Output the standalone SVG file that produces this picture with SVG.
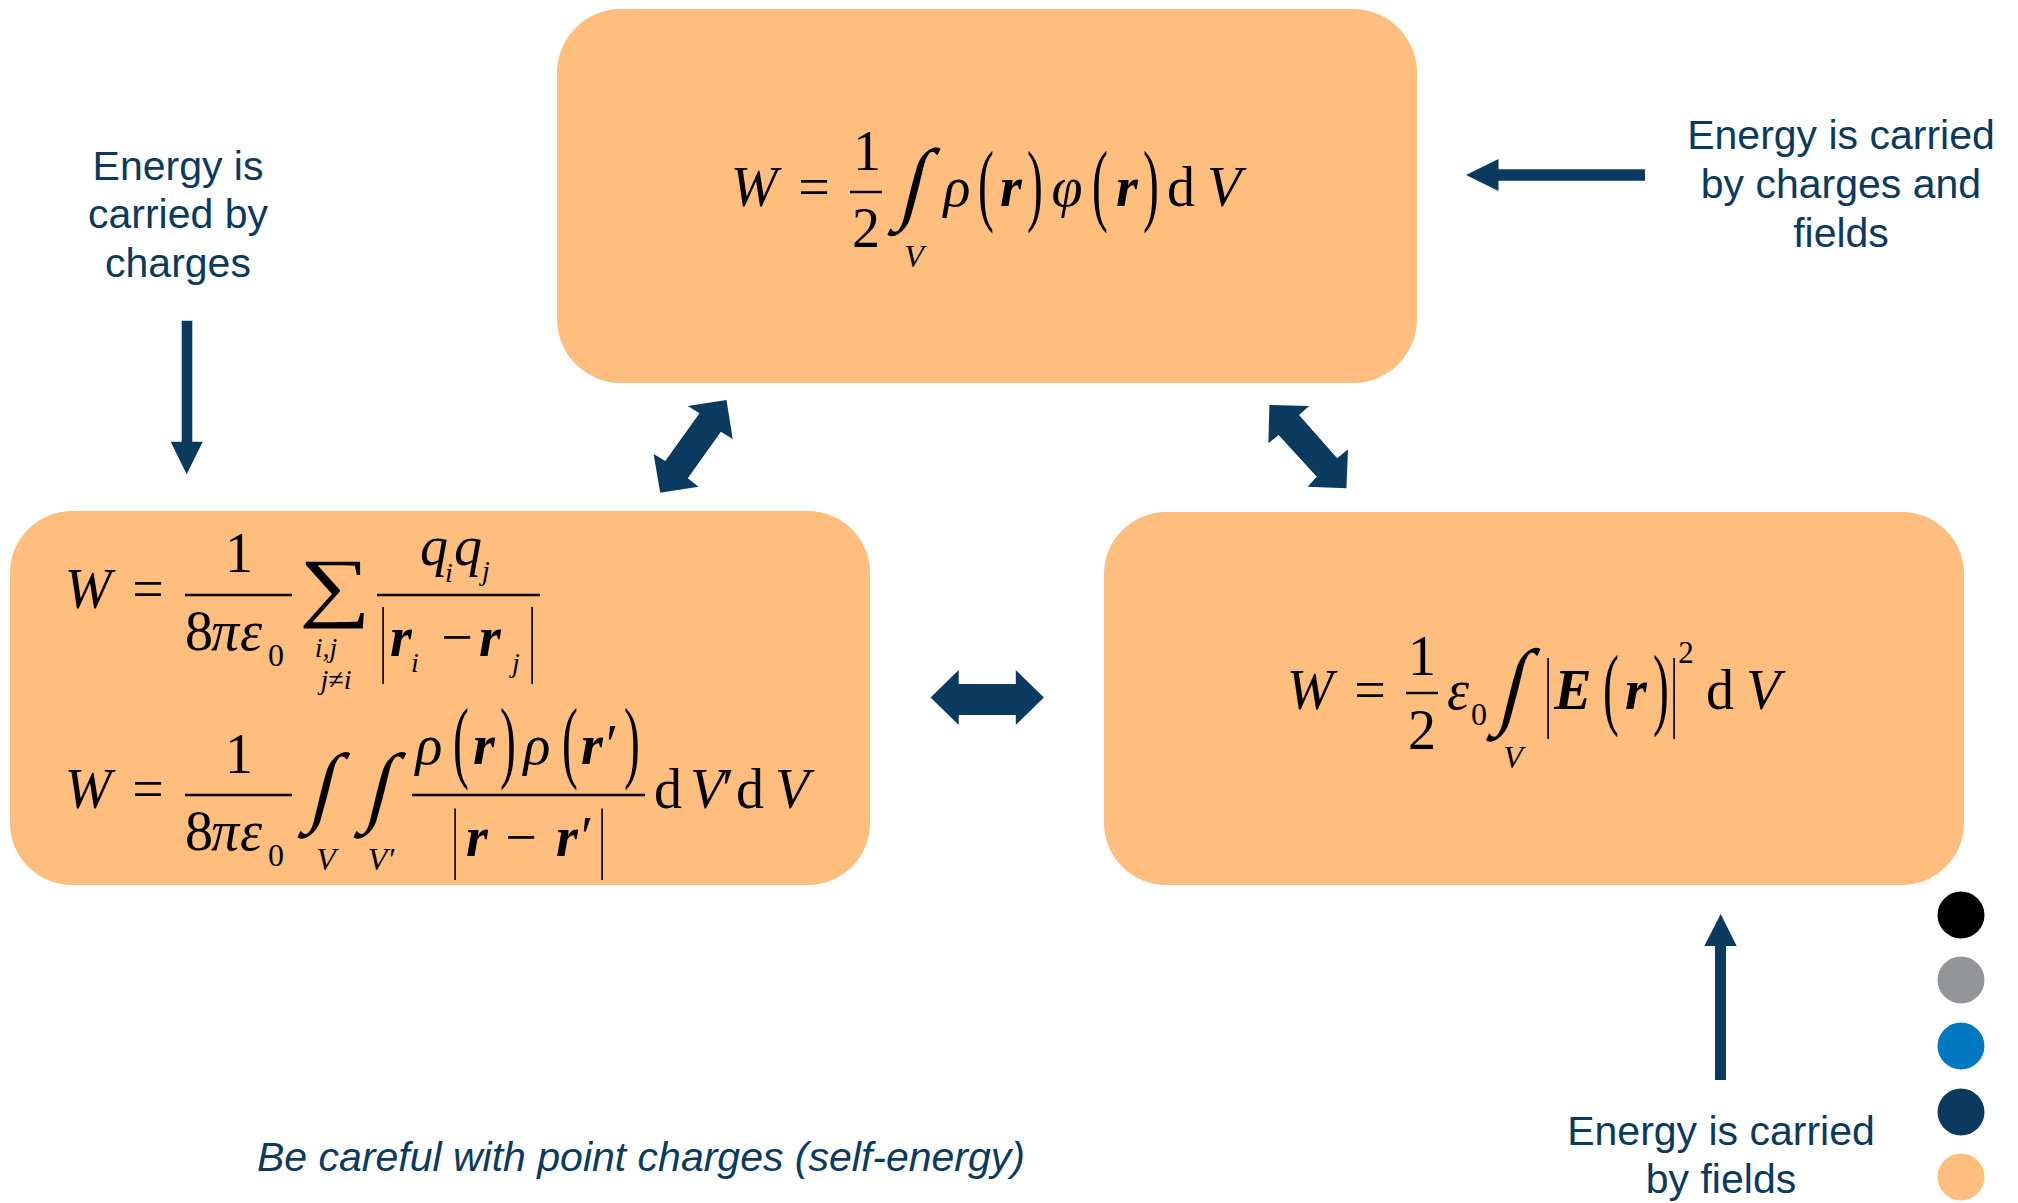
<svg xmlns="http://www.w3.org/2000/svg" width="2018" height="1203" viewBox="0 0 2018 1203">
<style>
.box{fill:#FFBD7E}
.conn{fill:#0B3A5F}
.lbl{font-family:"Liberation Sans",Arial,sans-serif;font-size:41px;fill:#0B3A5F;text-anchor:middle}
.m{font-family:"Liberation Serif","DejaVu Serif",serif;font-size:56px;fill:#000;text-anchor:middle}
.i{font-style:italic}
.b{font-style:italic;font-weight:bold}
.s{font-size:32px}
.ss{font-size:28px}
.fb{stroke:#000;stroke-width:2.4}
</style>
<rect width="2018" height="1203" fill="#fff"/>

<g id="node-top">
<rect class="box" x="557" y="9" width="860" height="374" rx="64" ry="64"/>
<text class="m i" x="754" y="206">W</text>
<text class="m" x="814" y="206">=</text>
<line class="fb" x1="850" y1="192" x2="882" y2="192"/>
<text class="m" x="867" y="170">1</text>
<text class="m" x="866" y="247">2</text>
<text class="m" transform="translate(909,212) skewX(-14) scale(1.5,1.62)">∫</text>
<text class="m i s" x="914" y="267">V</text>
<text class="m i" x="957" y="206">ρ</text>
<text class="m" transform="translate(986,214) scale(0.85,1.63)">(</text>
<text class="m b" x="1011" y="206">r</text>
<text class="m" transform="translate(1035,214) scale(0.85,1.63)">)</text>
<text class="m i" x="1067" y="206">φ</text>
<text class="m" transform="translate(1100,214) scale(0.85,1.63)">(</text>
<text class="m b" x="1127" y="206">r</text>
<text class="m" transform="translate(1151,214) scale(0.85,1.63)">)</text>
<text class="m" x="1181" y="206">d</text>
<text class="m i" x="1224" y="206">V</text>
</g>

<g id="node-left">
<rect class="box" x="10" y="511" width="860" height="374" rx="62" ry="62"/>
<text class="m i" x="88" y="608">W</text>
<text class="m" x="148" y="608">=</text>
<line class="fb" x1="185" y1="595" x2="292" y2="595"/>
<text class="m" x="239" y="572">1</text>
<text class="m" x="199" y="650">8</text>
<text class="m i" x="225" y="650">π</text>
<text class="m i" x="251" y="650">ε</text>
<text class="m s" x="276" y="666">0</text>
<text class="m" transform="translate(335,611.5) scale(1.8,1.37)">∑</text>
<text class="m i ss" x="326" y="657">i,j</text>
<text class="m i ss" x="336" y="689">j≠i</text>
<text class="m i" x="434" y="565">q</text>
<text class="m i ss" x="449" y="582">i</text>
<text class="m i" x="468" y="565">q</text>
<text class="m i ss" x="486" y="580">j</text>
<line class="fb" x1="377" y1="595" x2="540" y2="595"/>
<text class="m" transform="translate(383,666) scale(0.6,1.52)">|</text>
<text class="m b" x="401" y="656">r</text>
<text class="m i ss" x="415" y="672">i</text>
<text class="m" x="457" y="656">−</text>
<text class="m b" x="490" y="656">r</text>
<text class="m i ss" x="516" y="672">j</text>
<text class="m" transform="translate(532,666) scale(0.6,1.52)">|</text>

<text class="m i" x="88" y="808">W</text>
<text class="m" x="148" y="808">=</text>
<line class="fb" x1="185" y1="795" x2="292" y2="795"/>
<text class="m" x="239" y="773">1</text>
<text class="m" x="199" y="850">8</text>
<text class="m i" x="225" y="850">π</text>
<text class="m i" x="251" y="850">ε</text>
<text class="m s" x="276" y="866">0</text>
<text class="m" transform="translate(319,815) skewX(-14) scale(1.5,1.58)">∫</text>
<text class="m i s" x="326" y="870">V</text>
<text class="m" transform="translate(375,815) skewX(-14) scale(1.5,1.58)">∫</text>
<text class="m i s" x="381" y="870">V′</text>
<text class="m i" x="429" y="764">ρ</text>
<text class="m" transform="translate(461,771) scale(0.85,1.63)">(</text>
<text class="m b" x="484" y="764">r</text>
<text class="m" transform="translate(508,771) scale(0.85,1.63)">)</text>
<text class="m i" x="537" y="764">ρ</text>
<text class="m" transform="translate(570,771) scale(0.85,1.63)">(</text>
<text class="m b" x="592" y="764">r</text>
<text class="m" x="612" y="764">′</text>
<text class="m" transform="translate(632,771) scale(0.85,1.63)">)</text>
<line class="fb" x1="412" y1="795" x2="645" y2="795"/>
<text class="m" transform="translate(455,863) scale(0.6,1.39)">|</text>
<text class="m b" x="477" y="856">r</text>
<text class="m" x="521" y="856">−</text>
<text class="m b" x="567" y="856">r</text>
<text class="m" x="587" y="856">′</text>
<text class="m" transform="translate(602,863) scale(0.6,1.39)">|</text>
<text class="m" x="668" y="808">d</text>
<text class="m i" x="707" y="808">V</text>
<text class="m" x="728" y="808">′</text>
<text class="m" x="750" y="808">d</text>
<text class="m i" x="792" y="808">V</text>
</g>

<g id="node-right">
<rect class="box" x="1104" y="512" width="860" height="373" rx="62" ry="62"/>
<text class="m i" x="1310" y="709">W</text>
<text class="m" x="1370" y="709">=</text>
<line class="fb" x1="1406" y1="693" x2="1438" y2="693"/>
<text class="m" x="1422" y="675">1</text>
<text class="m" x="1422" y="749">2</text>
<text class="m i" x="1458" y="709">ε</text>
<text class="m s" x="1479" y="725">0</text>
<text class="m" transform="translate(1508,716) skewX(-14) scale(1.5,1.71)">∫</text>
<text class="m i s" x="1513" y="768">V</text>
<text class="m" transform="translate(1548,720) scale(0.6,1.6)">|</text>
<text class="m b" x="1573" y="709">E</text>
<text class="m" transform="translate(1611,718) scale(0.85,1.63)">(</text>
<text class="m b" x="1636" y="709">r</text>
<text class="m" transform="translate(1661,718) scale(0.85,1.63)">)</text>
<text class="m" transform="translate(1674,720) scale(0.6,1.6)">|</text>
<text class="m" x="1686" y="663" style="font-size:31px">2</text>
<text class="m" x="1720" y="709">d</text>
<text class="m i" x="1763" y="709">V</text>
</g>

<g id="label-charges">
<text class="lbl" x="178" y="180">Energy is</text>
<text class="lbl" x="178" y="228">carried by</text>
<text class="lbl" x="178" y="277">charges</text>
</g>
<g id="label-charges-fields">
<text class="lbl" x="1841" y="149">Energy is carried</text>
<text class="lbl" x="1841" y="198">by charges and</text>
<text class="lbl" x="1841" y="247">fields</text>
</g>
<g id="label-fields">
<text class="lbl" x="1721" y="1145">Energy is carried</text>
<text class="lbl" x="1721" y="1193">by fields</text>
</g>
<g id="note">
<text class="lbl" x="641" y="1171" style="font-style:italic">Be careful with point charges (self-energy)</text>
</g>

<g id="connectors">
<polygon class="conn" points="181.7,320.7 192.3,320.7 192.3,441.7 202.7,441.7 186.7,474.3 170.7,441.7 181.7,441.7"/>
<polygon class="conn" points="1645,169.3 1645,180.7 1498.5,180.7 1498.5,191 1466,175 1498.5,159 1498.5,169.3"/>
<polygon class="conn" points="1715,1080 1726,1080 1726,946 1736.7,946 1720.7,914 1704.3,946 1715,946"/>
<polygon class="conn" points="930.6,697.5 958.7,670 958.7,684 1015.8,684 1015.8,670 1043.9,697.5 1015.8,725 1015.8,715 958.7,715 958.7,725"/>
<polygon class="conn" points="726.5,400 732.7,439 720.9,431.7 687.8,478.3 698.5,486.7 660.2,492.7 653.6,454 665.3,461 699.5,413.3 687.8,406"/>
<polygon class="conn" points="1269.4,405 1309.2,406 1299,415 1337.2,458.3 1348,449.3 1346.4,488.3 1307.6,486.7 1316.8,476.7 1278.6,435 1268.4,443.3"/>
</g>

<g id="legend">
<circle cx="1961" cy="915" r="23.5" fill="#000000"/>
<circle cx="1961" cy="980" r="23.5" fill="#939598"/>
<circle cx="1961" cy="1046" r="23.5" fill="#0079C2"/>
<circle cx="1961" cy="1112" r="23.5" fill="#0B3A5F"/>
<circle cx="1961" cy="1177" r="23.5" fill="#FFBD7E"/>
</g>
</svg>
